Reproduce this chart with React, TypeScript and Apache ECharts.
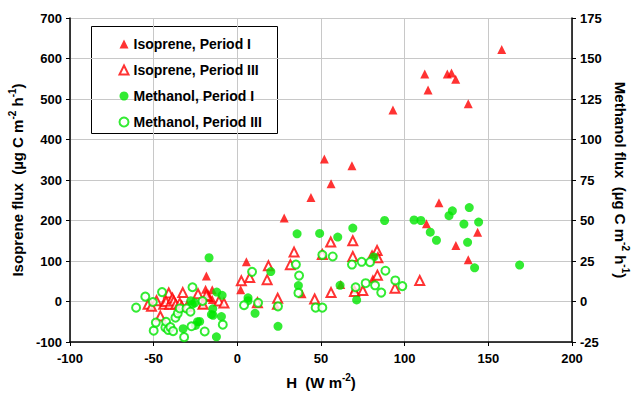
import React, { useEffect, useRef } from "react";
import * as echarts from "echarts";

// Isoprene, Period I  [H (W m-2), isoprene flux]
const isopreneP1: number[][] = [
  [158, 622], [112, 562], [125.5, 562], [128, 564], [130.5, 549], [114, 522], [138, 488], [93, 473],
  [120.5, 244], [113, 192], [143.6, 171], [130.6, 138], [138, 103],
  [52, 352], [68.5, 335], [56, 291], [44, 257], [28, 206], [5.4, 98], [2, 29], [23, -9],
  [38.7, 19], [61.8, 42], [70, 31], [81, 56], [80.5, 118],
  [-18.5, 63], [-19, 30], [-15, 29], [-17.5, 19], [-16.7, 10], [-15, 5], [-21, -7],
];

// Isoprene, Period III
const isopreneP3: number[][] = [
  [55.8, 147], [69, 150], [33.9, 122], [50.8, 116], [69, 111], [83.5, 126], [84, 108], [18.6, 88],
  [31.7, 91], [7.4, 59], [17.8, 54], [2.4, 51], [83.7, 65], [56, 22], [46.2, 6], [24.1, 8],
  [70, 25], [75, 27], [94.2, 33], [109, 52], [12, -3],
  [-53.3, -7], [-51.3, -12], [-48.3, 2], [-46, -36], [-44, -7], [-41, 21], [-42.6, 0], [-40.4, -7],
  [-38.8, 8], [-38, 1], [-36.8, -7], [-34.4, -4], [-32.6, 22], [-33.2, -12], [-30, -12],
  [-23.5, 19], [-20.5, -7], [-18.5, 15], [-11, 1], [-8, -4],
];

// Methanol, Period I  [H, methanol flux]
const methanolP1: number[][] = [
  [88, 50], [105.6, 50.3], [109.7, 50], [128.5, 56], [126.5, 53], [138.6, 58], [135.4, 47.8],
  [144.2, 49], [115.3, 42.8], [119, 37.8], [137.6, 36.5], [141.8, 20.8], [168.7, 22.5],
  [35.7, 41.8], [49.2, 42], [60, 39.8], [69, 45.3], [20, 18.5], [81.6, 27.5], [36.5, 9.8],
  [61.4, 10], [71.3, 1], [6.4, 2.3], [6.4, 0.5], [10.6, -7.3], [24.3, -15.3],
  [-16.9, 27], [-12.3, 5.8], [-9.1, 3.8], [-27.8, 0.5], [-25.4, -0.8], [-27, -1.8], [-14.7, -4.5],
  [-15.5, -8], [-14.5, -8.5], [-9.5, -9.3], [-23.8, -12.5], [-22.5, -12.3], [-25, -14.8],
  [-32.4, -16.8], [-12.5, -21.8],
];

// Methanol, Period III
const methanolP3: number[][] = [
  [88.5, 19], [94.4, 13], [98.6, 9.5], [86, 5.5], [8.8, 18.3], [35, 22.8], [36.9, 16], [36.5, 5.3],
  [50.8, 28.8], [57, 27.8], [68.5, 22.8], [74.3, 24.5], [79.3, 24.3], [76.7, 11.3], [82.3, 10],
  [70.7, 8.8], [4, -2.3], [12.4, -0.8], [24.3, -3], [46.8, -3.8], [50.8, -3.8],
  [-60.5, -3.8], [-55, 3], [-50, -18], [-48.7, -13], [-45, 5.8], [-50.5, -0.3], [-43, -16],
  [-42.6, -12.5], [-41.4, -17.5], [-40, -15.8], [-38.4, -18.3], [-37, -10], [-35.6, -7.3],
  [-34.4, -4.3], [-31.8, -22], [-30.4, -4.3], [-27.4, -15.3], [-26.8, 8.8], [-28, -6.3],
  [-20.8, 0.3], [-19.5, -18.5], [-8.7, -14.3],
];

const seriesNames = ["Isoprene, Period I", "Isoprene, Period III", "Methanol, Period I", "Methanol, Period III"];

const RED = "#ff0000";
const GREEN = "#00e600";
const FONT = "'Liberation Sans', Arial, sans-serif";

export default function App() {
  const ref = useRef<HTMLDivElement>(null);
  useEffect(() => {
    if (!ref.current) return;
    const chart = echarts.init(ref.current, null, { renderer: "svg" });
    const nameRich = {
      a: { fontSize: 15, fontWeight: "bold", fontFamily: FONT, color: "#000", verticalAlign: "bottom", lineHeight: 18 },
      s: { fontSize: 10, fontWeight: "bold", fontFamily: FONT, color: "#000", verticalAlign: "top", lineHeight: 10 },
    };
    const axisLabel = { color: "#000", fontWeight: "bold", fontSize: 13, fontFamily: FONT };
    const splitLine = { show: true, lineStyle: { color: "#c8c8c8", width: 1 } };
    chart.setOption({
      animation: false,
      backgroundColor: "#fff",
      grid: { left: 70, right: 59, top: 18, bottom: 51, containLabel: false, outerBoundsMode: "none" },
      legend: {
        left: 113.5,
        top: 32,
        orient: "vertical",
        itemWidth: 9,
        itemHeight: 9,
        itemGap: 12,
        data: seriesNames,
        textStyle: { color: "#000", fontWeight: "bold", fontSize: 14, fontFamily: FONT },
      },
      graphic: [
        {
          type: "rect",
          shape: { x: 91.5, y: 26.5, width: 186, height: 107 },
          style: { fill: "#fff", stroke: "#000", lineWidth: 1 },
          z: 0,
          zlevel: 0,
        },
      ],
      xAxis: {
        type: "value",
        min: -100,
        max: 200,
        interval: 50,
        name: "{a|H  (W m}{s|-2}{a|)}",
        nameLocation: "middle",
        nameGap: 30,
        nameTextStyle: { rich: nameRich },
        axisLine: { show: true, onZero: false, lineStyle: { color: "#000", width: 1.5 } },
        axisTick: { show: true, length: 4, lineStyle: { color: "#000" } },
        axisLabel: { ...axisLabel, margin: 10 },
        splitLine,
      },
      yAxis: [
        {
          type: "value",
          min: -100,
          max: 700,
          interval: 100,
          name: "{a|Isoprene flux  (µg C m}{s|-2}{a| h}{s|-1}{a|)}",
          nameLocation: "middle",
          nameGap: 38,
          nameRotate: 90,
          nameTextStyle: { rich: nameRich },
          axisLine: { show: true, onZero: false, lineStyle: { color: "#000", width: 1.5 } },
          axisTick: { show: true, length: 4, lineStyle: { color: "#000" } },
          axisLabel: { ...axisLabel, margin: 8 },
          splitLine,
        },
        {
          type: "value",
          min: -25,
          max: 175,
          interval: 25,
          position: "right",
          name: "{a|Methanol flux  (µg C m}{s|-2}{a| h}{s|-1}{a|)}",
          nameLocation: "middle",
          nameGap: 38,
          nameRotate: -90,
          nameTextStyle: { rich: nameRich },
          axisLine: { show: true, onZero: false, lineStyle: { color: "#000", width: 1.5 } },
          axisTick: { show: true, length: 4, lineStyle: { color: "#000" } },
          axisLabel: { ...axisLabel, margin: 8 },
          splitLine: { show: false },
        },
      ],
      series: [
        {
          name: seriesNames[0],
          type: "scatter",
          yAxisIndex: 0,
          symbol: "triangle",
          symbolSize: 9,
          itemStyle: { color: RED },
          data: isopreneP1,
          z: 3,
        },
        {
          name: seriesNames[1],
          type: "scatter",
          yAxisIndex: 0,
          symbol: "emptyTriangle",
          symbolSize: 9,
          itemStyle: { color: RED, borderColor: RED, borderWidth: 1.2 },
          data: isopreneP3,
          z: 3,
        },
        {
          name: seriesNames[2],
          type: "scatter",
          yAxisIndex: 1,
          symbol: "circle",
          symbolSize: 9,
          itemStyle: { color: GREEN },
          data: methanolP1,
          z: 4,
        },
        {
          name: seriesNames[3],
          type: "scatter",
          yAxisIndex: 1,
          symbol: "emptyCircle",
          symbolSize: 8,
          itemStyle: { color: GREEN, borderColor: GREEN, borderWidth: 1.2 },
          data: methanolP3,
          z: 4,
        },
      ],
    });
    return () => chart.dispose();
  }, []);
  return <div ref={ref} style={{ width: 631, height: 393, position: "absolute", left: 0, top: 0 }} />;
}
